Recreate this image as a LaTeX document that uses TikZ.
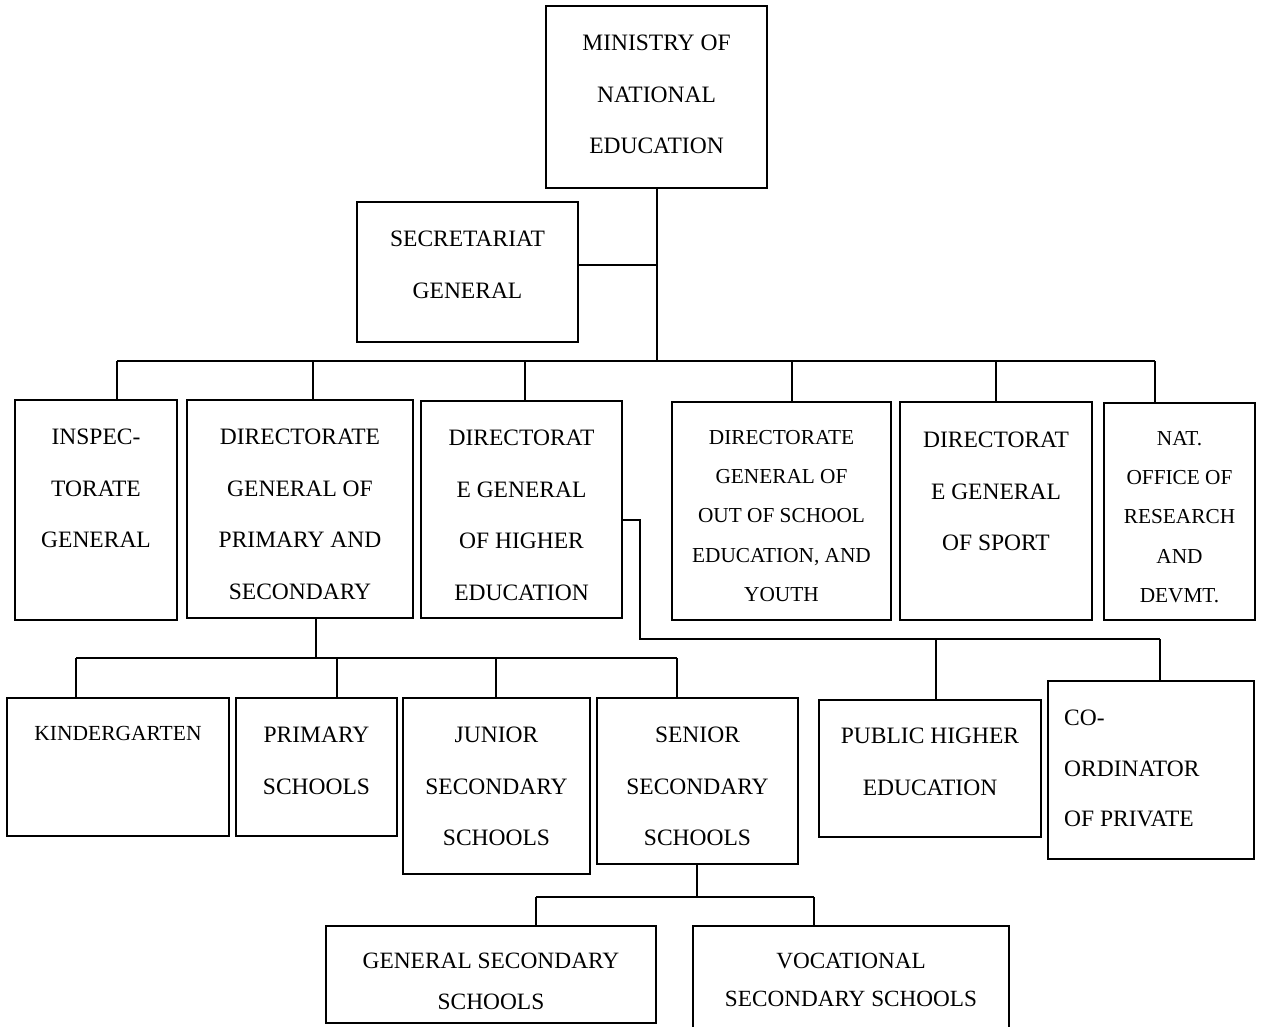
\documentclass[tikz,border=0pt]{standalone}
\usepackage{fontspec}
\setmainfont{Liberation Serif}
\usetikzlibrary{positioning}
\tikzstyle{block} = [rectangle, draw, line width=2pt, inner sep=0pt]
\tikzstyle{boxtext} = [inner sep=0pt, align=center, font=\fontsize{23.5}{51.5}\selectfont]
\tikzstyle{smalltext} = [boxtext, font=\fontsize{21.3}{39.3}\selectfont]
\tikzstyle{lowtext} = [boxtext, font=\fontsize{23.4}{39.5}\selectfont]
\tikzstyle{line} = [draw, line width=2pt]
\begin{document}
\begin{tikzpicture}[x=1pt,y=-1pt]
    \useasboundingbox (0,0) rectangle (1261,1026);
    % Place nodes
    \node [block, minimum width=221pt, minimum height=182pt] (min) at (656.5,97) {};
    \node [block, minimum width=221pt, minimum height=140pt] (sec) at (467.5,272) {};
    \node [block, minimum width=162pt, minimum height=220pt] (insp) at (96,510) {};
    \node [block, minimum width=226pt, minimum height=218pt] (prim) at (300,509) {};
    \node [block, minimum width=201pt, minimum height=217pt] (high) at (521.5,509.5) {};
    \node [block, minimum width=219pt, minimum height=218pt] (oos) at (781.5,511) {};
    \node [block, minimum width=192pt, minimum height=218pt] (sport) at (996,511) {};
    \node [block, minimum width=151pt, minimum height=217pt] (nat) at (1179.5,511.5) {};
    \node [block, minimum width=222pt, minimum height=138pt] (kind) at (118,767) {};
    \node [block, minimum width=161pt, minimum height=138pt] (psch) at (316.5,767) {};
    \node [block, minimum width=187pt, minimum height=176pt] (jun) at (496.5,786) {};
    \node [block, minimum width=201pt, minimum height=166pt] (sen) at (697.5,781) {};
    \node [block, minimum width=222pt, minimum height=137pt] (pub) at (930,768.5) {};
    \node [block, minimum width=206pt, minimum height=178pt] (coord) at (1151,770) {};
    \node [block, minimum width=330pt, minimum height=97pt] (gen) at (491,974.5) {};
    \node [block, minimum width=316pt, minimum height=103pt] (voc) at (851,977.5) {};
    % Texts
    \node [boxtext, below=30pt of min.north] (min-t) {MINISTRY OF\\NATIONAL\\EDUCATION};
    \node [boxtext, below=30pt of sec.north] (sec-t) {SECRETARIAT\\GENERAL};
    \node [boxtext, below=30pt of insp.north] (insp-t) {INSPEC-\\TORATE\\GENERAL};
    \node [boxtext, below=30pt of prim.north] (prim-t) {DIRECTORATE\\GENERAL OF\\PRIMARY AND\\SECONDARY};
    \node [boxtext, below=30pt of high.north] (high-t) {DIRECTORAT\\E GENERAL\\OF HIGHER\\EDUCATION};
    \node [smalltext, below=29pt of oos.north] (oos-t) {DIRECTORATE\\GENERAL OF\\OUT OF SCHOOL\\EDUCATION, AND\\YOUTH};
    \node [boxtext, below=31pt of sport.north] (sport-t) {DIRECTORAT\\E GENERAL\\OF SPORT};
    \node [smalltext, below=29pt of nat.north] (nat-t) {NAT.\\OFFICE OF\\RESEARCH\\AND\\DEVMT.};
    \node [smalltext, font=\fontsize{21.5}{39}\selectfont, below=29pt of kind.north] (kind-t) {KINDERGARTEN};
    \node [boxtext, below=30pt of psch.north] (psch-t) {PRIMARY\\SCHOOLS};
    \node [boxtext, below=30pt of jun.north] (jun-t) {JUNIOR\\SECONDARY\\SCHOOLS};
    \node [boxtext, below=30pt of sen.north] (sen-t) {SENIOR\\SECONDARY\\SCHOOLS};
    \node [boxtext, below=29pt of pub.north] (pub-t) {PUBLIC HIGHER\\EDUCATION};
    \node [boxtext, align=left, font=\fontsize{23.5}{50.5}\selectfont, below right=30pt and 17pt of coord.north west] (coord-t) {CO-\\ORDINATOR\\OF PRIVATE};
    \node [lowtext, font=\fontsize{23.4}{41}\selectfont, below=28pt of gen.north] (gen-t) {GENERAL SECONDARY\\SCHOOLS};
    \node [lowtext, font=\fontsize{23.2}{38}\selectfont, below=28pt of voc.north] (voc-t) {VOCATIONAL\\SECONDARY SCHOOLS};
    % Bus points
    \coordinate (s-join) at ([yshift=7pt]sec.east);
    \coordinate (top-insp) at (117,361);
    \coordinate (top-prim) at (313,361);
    \coordinate (top-high) at (525,361);
    \coordinate (top-oos) at (792,361);
    \coordinate (top-sport) at (996,361);
    \coordinate (top-nat) at (1155,361);
    \coordinate (p-low) at (316,658);
    \coordinate (top-kind) at (76,658);
    \coordinate (top-psch) at (337,658);
    \coordinate (top-jun) at (496,658);
    \coordinate (top-sen) at (677,658);
    \coordinate (h-step) at (640,520);
    \coordinate (h-turn) at (640,639);
    \coordinate (top-pub) at (936,639);
    \coordinate (top-coord) at (1160,639);
    \coordinate (s-low) at (697,897);
    \coordinate (top-gen) at (536,897);
    \coordinate (top-voc) at (814,897);
    % Draw edges
    \path [line] (min.south) -- (min.south |- top-insp);
    \path [line] (s-join) -- (min.south |- s-join);
    \path [line] (top-insp) -- (top-nat);
    \foreach \n in {insp, prim, high, oos, sport, nat}
        \path [line] (top-\n) -- (top-\n |- \n.north);
    \path [line] (prim.south -| p-low) -- (p-low);
    \path [line] (top-kind) -- (top-sen);
    \foreach \n in {kind, psch, jun, sen}
        \path [line] (top-\n) -- (top-\n |- \n.north);
    \path [line] (high.east |- h-step) -- (h-step) -- (h-turn) -- (top-coord);
    \foreach \n in {pub, coord}
        \path [line] (top-\n) -- (top-\n |- \n.north);
    \path [line] (sen.south -| s-low) -- (s-low);
    \path [line] (top-gen) -- (top-voc);
    \foreach \n in {gen, voc}
        \path [line] (top-\n) -- (top-\n |- \n.north);
\end{tikzpicture}
\end{document}
